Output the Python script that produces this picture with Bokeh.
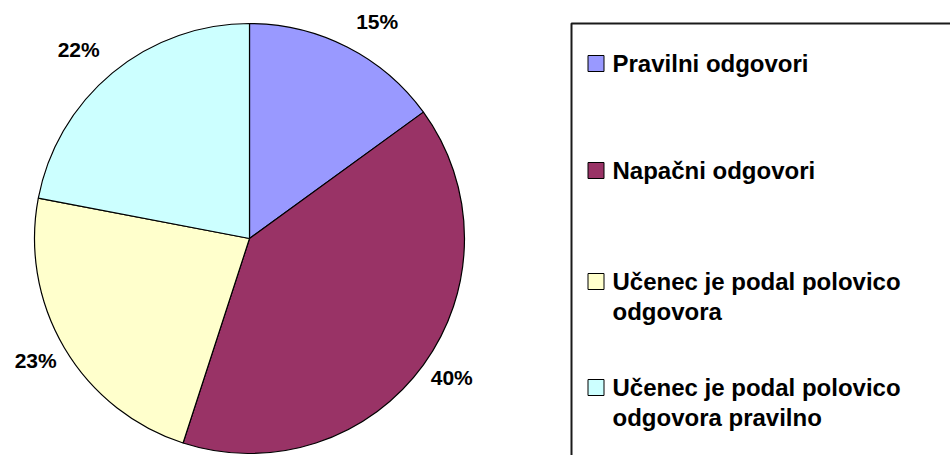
import math
from bokeh.plotting import figure
from bokeh.models import Range1d, ColumnDataSource
from bokeh.core.properties import value
from bokeh.embed import file_html
from bokeh.resources import INLINE

# ---- data ----
categories = [
    "Pravilni odgovori",
    "Napačni odgovori",
    "Učenec je podal  polovico\nodgovora",
    "Učenec je podal polovico\nodgovora pravilno",
]
percentages = [15, 40, 23, 22]
colors = ["#9999FF", "#993366", "#FFFFCC", "#CCFFFF"]

# ---- layout (screen-pixel based coordinates, y up) ----
W, H = 950, 455
SCREEN_H = 455

def sy(y):
    return SCREEN_H - y

p = figure(width=W, height=H, output_backend="svg", toolbar_location=None,
           x_range=Range1d(0, W), y_range=Range1d(0, H),
           min_border=0, outline_line_color=None)
p.axis.visible = False
p.grid.visible = False
p.background_fill_color = "white"
p.border_fill_color = "white"

cx, cy, r = 249, sy(238), 215
total = sum(percentages)
starts, ends, mids = [], [], []
cum = 0
for v in percentages:
    a0 = math.pi / 2 - 2 * math.pi * cum / total
    cum += v
    a1 = math.pi / 2 - 2 * math.pi * cum / total
    starts.append(a0)
    ends.append(a1)
    mids.append((a0 + a1) / 2)

src = ColumnDataSource(dict(start=starts, end=ends, color=colors))
p.wedge(x=cx, y=cy, radius=r, start_angle="start", end_angle="end", direction="clock",
        fill_color="color", line_color="black", line_width=1.2, source=src)

# percentage labels placed outside, corner nearest the pie at a fixed gap
lx, ly, la, lt = [], [], [], []
half_cap = 7.5
for v, m in zip(percentages, mids):
    ux, uy = math.cos(m), math.sin(m)
    up = uy > 0
    d = r + (20 if up else 9)
    px, py = cx + d * ux, cy + d * uy
    lx.append(px)
    ly.append(py + half_cap if up else py - half_cap)
    la.append("left" if ux > 0 else "right")
    lt.append(f"{v}%")
lab = ColumnDataSource(dict(x=lx, y=ly, t=lt, a=la))
p.text(x="x", y="y", text="t", text_align="a", source=lab, text_baseline="middle",
       text_font=value("Liberation Sans"), text_font_style="bold", text_font_size="21px",
       text_color="black")

# legend box
p.quad(left=[571], right=[990], top=[sy(23)], bottom=[-20], fill_color=None,
       line_color="#1a1a1a", line_width=2)

baselines = [71, 178, 289, 395]
line_h = 30
sq = dict(left=[], right=[], top=[], bottom=[])
tx, ty, tt = [], [], []
for i, name in enumerate(categories):
    b = baselines[i]
    sq["left"].append(587.5)
    sq["right"].append(603.5)
    sq["top"].append(sy(b - 16))
    sq["bottom"].append(sy(b))
    for j, line in enumerate(name.split("\n")):
        tx.append(612)
        ty.append(sy(b + j * line_h - 8))
        tt.append(line)
sq["color"] = colors
p.quad(left="left", right="right", top="top", bottom="bottom", fill_color="color",
       line_color="black", line_width=1, source=ColumnDataSource(sq))
p.text(x=tx, y=ty, text=tt, text_align="left", text_baseline="middle",
       text_font=value("Liberation Sans"), text_font_style="bold", text_font_size="24px",
       text_color="black")

open("out.html", "w").write(file_html(p, INLINE))
